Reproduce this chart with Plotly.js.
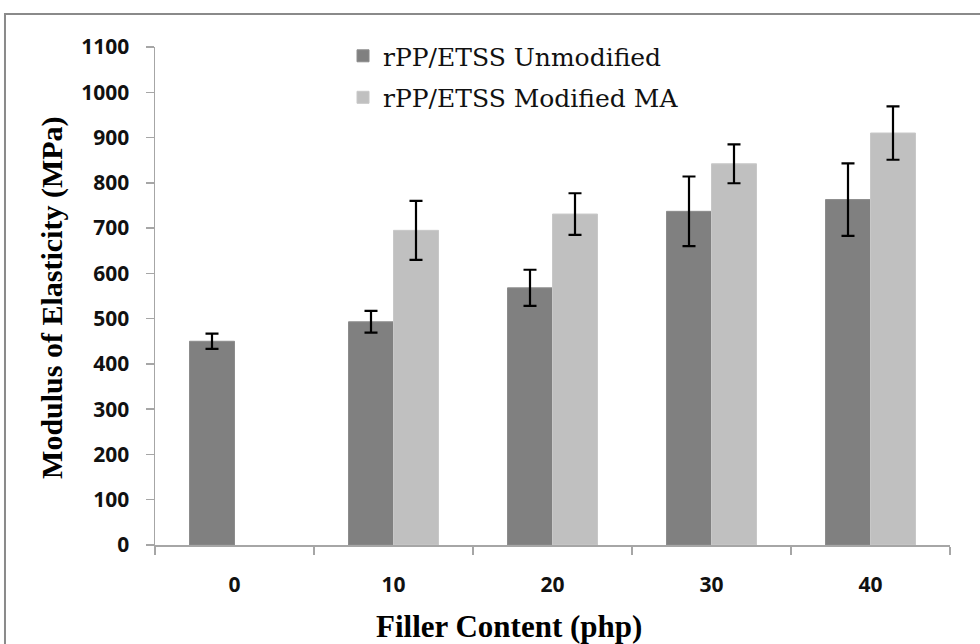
<!DOCTYPE html>
<html>
<head>
<meta charset="utf-8">
<script src="https://cdn.plot.ly/plotly-3.0.1.min.js"></script>
<style>html,body{margin:0;padding:0;background:#fff;}#chart{width:980px;height:644px;}</style>
</head>
<body>
<div id="chart"></div>
<script>
var categories = ['0', '10', '20', '30', '40'];
var seriesNames = ['rPP/ETSS Unmodified', 'rPP/ETSS Modified MA'];
var unmodified = [450, 493, 568, 737, 763];
var unmodifiedErr = [17, 24, 40, 77, 80];
var modified = [null, 695, 731, 842, 910];
var modifiedErr = [0, 65, 46, 43, 59];
var yTicks = [0, 100, 200, 300, 400, 500, 600, 700, 800, 900, 1000, 1100];
var xTitle = 'Filler Content (php)';
var yTitle = 'Modulus of Elasticity (MPa)';

var errStyle = {type: 'data', visible: true, color: '#000000', thickness: 2.2, width: 6.5};

var traces = [
  {
    type: 'bar', name: seriesNames[0], x: categories, y: unmodified,
    marker: {color: '#808080', line: {color: '#8c8c8c', width: 1}},
    error_y: Object.assign({array: unmodifiedErr}, errStyle),
    legendgroup: 'a', hoverinfo: 'x+y'
  },
  {
    type: 'bar', name: seriesNames[1], x: categories, y: modified,
    marker: {color: '#c0c0c0', line: {color: '#c8c8c8', width: 1}},
    error_y: Object.assign({array: modifiedErr}, errStyle),
    legendgroup: 'b', hoverinfo: 'x+y'
  }
];

var layout = {
  width: 980, height: 644,
  margin: {l: 155, r: 30, t: 47, b: 99, pad: 0},
  paper_bgcolor: '#ffffff', plot_bgcolor: '#ffffff',
  barmode: 'group', bargap: 0.434, bargroupgap: 0,
  showlegend: true,
  legend: {
    x: 0.2365, y: 1.028, xanchor: 'left', yanchor: 'top',
    bgcolor: 'rgba(0,0,0,0)', borderwidth: 0,
    font: {family: '"DejaVu Serif", serif', size: 25, color: '#111111'},
    tracegroupgap: 6, traceorder: 'grouped'
  },
  xaxis: {
    type: 'category', showgrid: false, zeroline: false,
    showline: true, linecolor: '#a6a6a6', linewidth: 1.5,
    ticks: 'outside', tickson: 'boundaries', ticklen: 8, tickcolor: '#a6a6a6', tickwidth: 1.5,
    tickfont: {family: '"Open Sans", "DejaVu Sans", sans-serif', size: 21, color: '#111111', weight: 'bold'},
    ticklabelstandoff: 20
  },
  yaxis: {
    range: [0, 1100], tickvals: yTicks, ticktext: yTicks.map(String),
    showgrid: false, zeroline: false,
    showline: true, linecolor: '#a6a6a6', linewidth: 1.5,
    ticks: 'outside', ticklen: 8, tickcolor: '#a6a6a6', tickwidth: 1.5,
    tickfont: {family: '"Open Sans", "DejaVu Sans", sans-serif', size: 21, color: '#111111', weight: 'bold'},
    ticklabelstandoff: 12
  },
  annotations: [
    {text: xTitle, xref: 'paper', yref: 'paper', x: 0.4453, y: -0.1627, xanchor: 'center', yanchor: 'middle',
     showarrow: false, font: {family: '"Liberation Serif", "Times New Roman", serif', size: 31, color: '#000000', weight: 'bold'}},
    {text: yTitle, xref: 'paper', yref: 'paper', x: -0.129, y: 0.497, xanchor: 'center', yanchor: 'middle',
     textangle: -90, showarrow: false, font: {family: '"Liberation Serif", "Times New Roman", serif', size: 30, color: '#000000', weight: 'bold'}}
  ],
  shapes: [
    {type: 'rect', xref: 'paper', yref: 'paper', x0: -0.1887, x1: 1.1, y0: -0.4, y1: 1.0663,
     line: {color: '#8a8a8a', width: 2}, fillcolor: 'rgba(0,0,0,0)', layer: 'below'}
  ]
};

Plotly.newPlot('chart', traces, layout, {displayModeBar: false, staticPlot: true});
</script>
</body>
</html>
